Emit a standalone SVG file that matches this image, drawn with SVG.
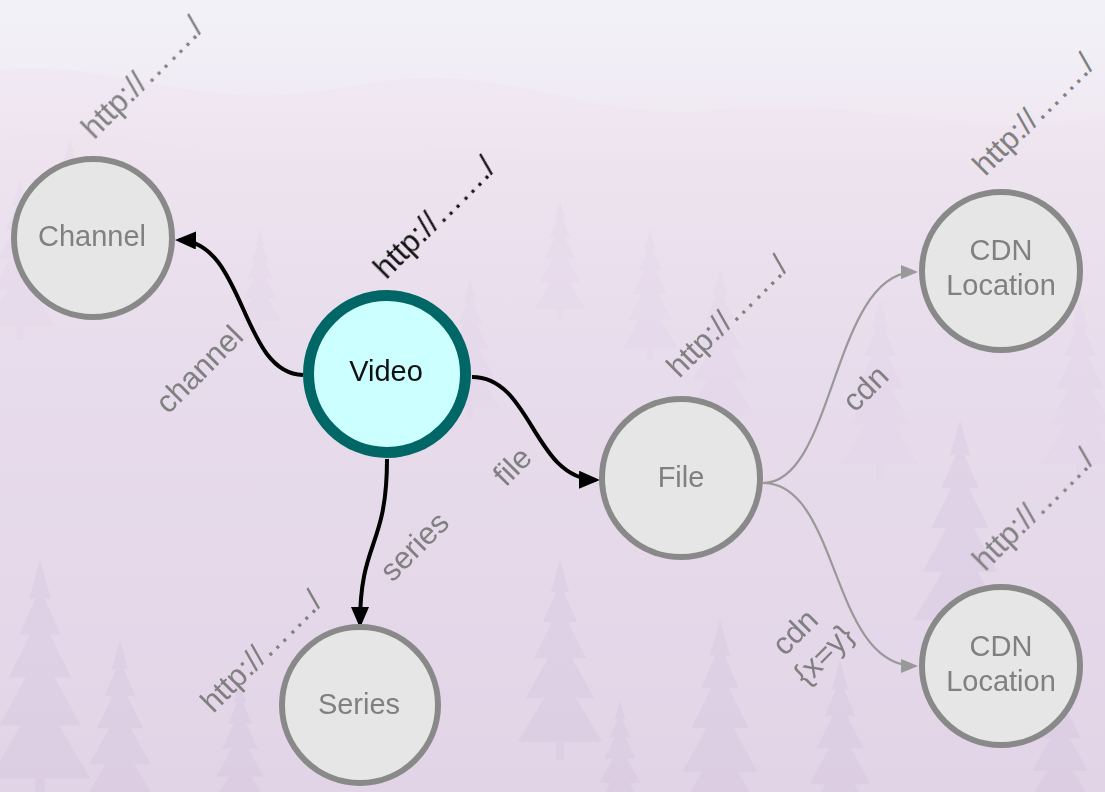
<svg xmlns="http://www.w3.org/2000/svg" width="1105" height="792" viewBox="0 0 1105 792">
  <defs>
    <linearGradient id="sky" x1="0" y1="0" x2="0" y2="1">
      <stop offset="0" stop-color="#f3f1f8"/>
      <stop offset="0.08" stop-color="#f1eef6"/>
      <stop offset="0.18" stop-color="#efe6f0"/>
      <stop offset="0.3" stop-color="#e9e0ee"/>
      <stop offset="0.45" stop-color="#e0d6ea"/>
      <stop offset="0.65" stop-color="#dbcfe6"/>
      <stop offset="0.85" stop-color="#d6c8e1"/>
      <stop offset="1" stop-color="#d2c1dc"/>
    </linearGradient>
    <!-- a single conifer silhouette, 200 units tall -->
    <path id="pine" d="M0,0 L9,32 L4,32 L17,62 L8,62 L26,98 L12,98 L34,138 L16,138 L42,182 L4,182 L4,200 L-4,200 L-4,182 L-42,182 L-16,138 L-34,138 L-12,98 L-26,98 L-8,62 L-17,62 L-4,32 L-9,32 Z"/>
    <marker id="arrowDark" markerUnits="userSpaceOnUse" markerWidth="22" markerHeight="20" refX="17" refY="9" orient="auto">
      <path d="M0,0 L21,9 L0,18 Z" fill="#000"/>
    </marker>
    <marker id="arrowGray" markerUnits="userSpaceOnUse" markerWidth="18" markerHeight="14" refX="14" refY="7" orient="auto">
      <path d="M0,0 L17,7 L0,14 Z" fill="#999"/>
    </marker>
  </defs>
  <style>
    .node-gray { fill: #e6e6e6; stroke: #898989; stroke-width: 6; }
    .node-main { fill: #ccffff; stroke: #006666; stroke-width: 11; }
    .label { font-family: "Liberation Sans", Arial, sans-serif; font-size: 29px; text-anchor: middle; }
    .edge-label { font-size: 31px; }
    .gray { fill: #808080; }
    .dark { fill: #111; }
    .edge-dark { fill: none; stroke: #000; stroke-width: 4; marker-end: url(#arrowDark); }
    .edge-gray { fill: none; stroke: #999; stroke-width: 2.2; marker-end: url(#arrowGray); }
    .far { fill: #efe2ee; opacity: 0.35; }
    .mid { fill: #ddd1e8; opacity: 0.28; }
    .near { fill: #c9b5d6; opacity: 0.2; }
  </style>

  <!-- misty forest backdrop -->
  <g id="backdrop">
    <rect width="1105" height="792" fill="url(#sky)"/>
    <path class="far" d="M0,70 C80,60 150,90 240,95 C330,100 380,70 470,80 C560,90 620,120 720,110 C820,100 900,120 1000,125 C1050,128 1080,120 1105,118 L1105,792 L0,792 Z"/>
    <path class="far" d="M0,140 C90,120 170,150 260,160 C350,170 420,140 520,150 C610,160 680,190 780,185 C880,180 960,200 1105,205 L1105,792 L0,792 Z"/>
    <g class="mid">
      <use href="#pine" transform="translate(70,140) scale(0.7)"/>
      <use href="#pine" transform="translate(560,200) scale(0.6)"/>
      <use href="#pine" transform="translate(650,230) scale(0.65)"/>
      <use href="#pine" transform="translate(260,230) scale(0.5)"/>
      <use href="#pine" transform="translate(20,180) scale(0.8)"/>
      <use href="#pine" transform="translate(720,270) scale(0.8)"/>
      <use href="#pine" transform="translate(880,300) scale(0.9)"/>
      <use href="#pine" transform="translate(1080,300) scale(0.9)"/>
      <use href="#pine" transform="translate(470,280) scale(0.7)"/>
    </g>
    <g class="near">
      <use href="#pine" transform="translate(720,620) scale(1.1)"/>
      <use href="#pine" transform="translate(840,660) scale(0.9)"/>
      <use href="#pine" transform="translate(560,560) scale(1.0)"/>
      <use href="#pine" transform="translate(120,640) scale(0.9)"/>
      <use href="#pine" transform="translate(40,560) scale(1.2)"/>
      <use href="#pine" transform="translate(960,420) scale(1.1)"/>
      <use href="#pine" transform="translate(620,700) scale(0.6)"/>
      <use href="#pine" transform="translate(1060,660) scale(0.8)"/>
      <use href="#pine" transform="translate(240,680) scale(0.7)"/>
    </g>
  </g>

  <!-- connectors -->
  <g id="connectors">
    <path id="e-channel" class="edge-dark" d="M303,375 C240,373 246,242 179,240"/>
    <path id="e-series" class="edge-dark" d="M387,459 C387,548 360,540 360,624"/>
    <path id="e-file" class="edge-dark" d="M472,377 C532,377 533,479 596,480"/>
    <path id="e-cdn1" class="edge-gray" d="M763,483 C835,483 832,272 915,272"/>
    <path id="e-cdn2" class="edge-gray" d="M763,483 C840,483 830,666 915,666"/>
    <text class="label edge-label gray" transform="translate(199,369) rotate(-45)" dy="0.35em">channel</text>
    <text class="label edge-label gray" transform="translate(512,466) rotate(-45)" dy="0.35em">file</text>
    <text class="label edge-label gray" transform="translate(414,546) rotate(-45)" dy="0.35em">series</text>
    <text class="label edge-label gray" transform="translate(865,388) rotate(-45)" dy="0.35em">cdn</text>
    <text class="label edge-label gray" transform="translate(811,642) rotate(-45)">
      <tspan x="0" y="-8">cdn</tspan>
      <tspan x="0" y="28">{x=y}</tspan>
    </text>
  </g>

  <!-- nodes -->
  <g id="node-channel">
    <circle class="node-gray" cx="93" cy="238" r="79"/>
    <text class="label gray" x="92" y="246">Channel</text>
    <text class="label edge-label gray" transform="translate(142,77) rotate(-45)" dy="0.35em">http://……./</text>
  </g>
  <g id="node-video">
    <circle class="node-main" cx="387" cy="374" r="78.5"/>
    <text class="label dark" x="386" y="381">Video</text>
    <text class="label edge-label dark" transform="translate(434,217) rotate(-45)" dy="0.35em">http://……./</text>
  </g>
  <g id="node-series">
    <circle class="node-gray" cx="360" cy="705" r="78"/>
    <text class="label gray" x="359" y="714">Series</text>
    <text class="label edge-label gray" transform="translate(261,651) rotate(-45)" dy="0.35em">http://……./</text>
  </g>
  <g id="node-file">
    <circle class="node-gray" cx="681" cy="478" r="79"/>
    <text class="label gray" x="681" y="487">File</text>
    <text class="label edge-label gray" transform="translate(727,316) rotate(-45)" dy="0.35em">http://……./</text>
  </g>
  <g id="node-cdn-top">
    <circle class="node-gray" cx="1001" cy="271" r="79"/>
    <text class="label gray" x="1001" y="260">CDN</text>
    <text class="label gray" x="1001" y="295">Location</text>
    <text class="label edge-label gray" transform="translate(1033,114) rotate(-45)" dy="0.35em">http://……./</text>
  </g>
  <g id="node-cdn-bottom">
    <circle class="node-gray" cx="1001" cy="666" r="79"/>
    <text class="label gray" x="1001" y="656">CDN</text>
    <text class="label gray" x="1001" y="691">Location</text>
    <text class="label edge-label gray" transform="translate(1033,509) rotate(-45)" dy="0.35em">http://……./</text>
  </g>
</svg>
